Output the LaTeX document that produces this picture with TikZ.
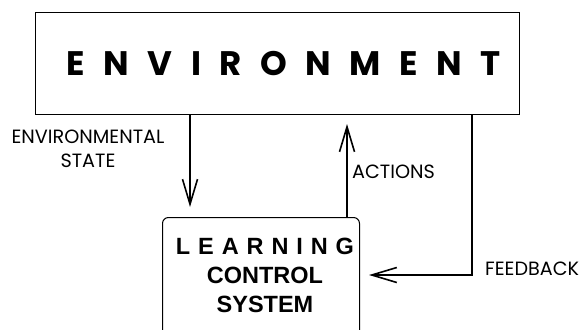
\documentclass[tikz,border=0pt]{standalone}
\usepackage{fontspec}
\setmainfont{Poppins}
\newfontfamily\arialfont{Liberation Sans}
\usetikzlibrary{arrows.meta}
\begin{document}
\begin{tikzpicture}[x=1pt,y=-1pt,
  envbox/.style={draw, line width=1pt, minimum width=484pt, minimum height=102pt, inner sep=0pt, anchor=north west},
  lcsbox/.style={draw, line width=1pt, rounded corners=6pt, minimum width=197pt, minimum height=130pt, inner sep=0pt, anchor=north west},
  conn/.style={line width=1.6pt, -{Straight Barb[length=25pt,width=15pt,line width=1.6pt]}},
  lbl/.style={inner sep=0pt, font=\fontsize{19.2}{24}\selectfont},
  bigtitle/.style={inner sep=0pt, font=\fontsize{34}{40}\selectfont\bfseries},
  lcstext/.style={inner sep=0pt, align=center, font=\arialfont\bfseries\fontsize{23.5}{29}\selectfont}
]
\useasboundingbox (0,0) rectangle (588,329);
\clip (0,0) rectangle (588,329);

\node[envbox] (env) at (35,12) {};
\node[bigtitle, anchor=base] (envlabel) at (283.5,75)
  {E\hspace{18.5pt}N\hspace{18.5pt}V\hspace{18.5pt}I\hspace{18.5pt}R\hspace{18.5pt}O\hspace{18.5pt}N\hspace{18.5pt}M\hspace{18.5pt}E\hspace{18.5pt}N\hspace{18.5pt}T};

\node[lcsbox] (lcs) at (162,217) {};
\node[lcstext, anchor=base] (lcslabel) at (265,312)
  {L\hspace{7.9pt}E\hspace{7.9pt}A\hspace{7.9pt}R\hspace{7.9pt}N\hspace{7.9pt}I\hspace{7.9pt}N\hspace{7.9pt}G\\CONTROL\\SYSTEM};

\coordinate (sx) at (190,0);
\coordinate (ax) at (347,0);
\coordinate (fx) at (472,0);
\coordinate (fb) at (472,275);

\draw[conn, shorten >=10pt] (sx |- env.south) -- (sx |- lcs.north);
\draw[conn, shorten >=9pt] (ax |- lcs.north) -- (ax |- env.south);
\draw[conn, shorten >=9pt] (fx |- env.south) -- (fb) -- (fb -| lcs.east);

\node[lbl, align=center, anchor=base] (statelbl) at (88,167) {ENVIRONMENTAL\\STATE};
\node[lbl, anchor=base west] (actlbl) at (352,178) {ACTIONS};
\node[lbl, anchor=base west] (fblbl) at (485,275) {FEEDBACK};
\end{tikzpicture}
\end{document}
